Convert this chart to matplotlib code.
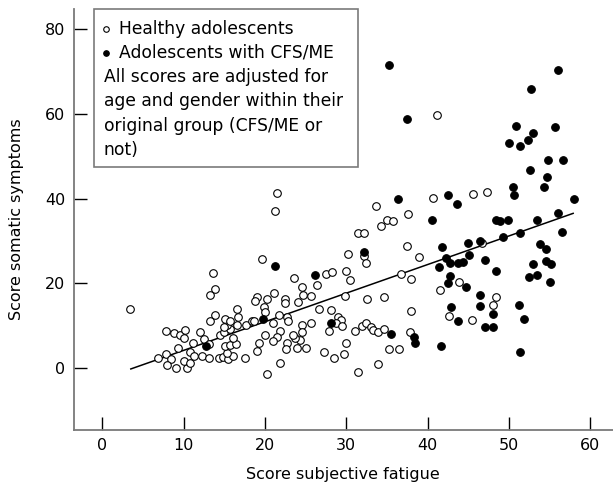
import matplotlib
matplotlib.use("Agg")
import matplotlib.pyplot as plt
from matplotlib.patches import Rectangle

plt.rcParams['font.family'] = ['DejaVu Sans']

# Healthy adolescents (open circles)
healthy_x = [3.4, 13.6, 13.9, 13.2, 13.9, 13.2, 7.8, 8.8, 9.5, 10.2, 10.1, 9.3, 11.2, 12.0, 12.5,
             13.1, 6.8, 7.8, 8.5, 8.0, 9.1, 10.4, 10.0, 10.8, 10.8, 11.3, 12.2, 13.1, 14.3, 14.8,
             15.5, 16.1, 15.3, 15.1, 15.7, 16.4, 16.1, 14.5, 14.9, 15.7, 15.3, 14.9, 15.1, 15.7,
             16.6, 16.6, 16.7,
             21.5, 21.2, 19.6, 23.6, 26.4, 24.6, 24.7, 25.6, 24.1, 22.5, 22.5, 21.1, 20.3, 19.0,
             18.8, 19.9, 20.0, 17.7, 18.4, 18.7, 21.0, 21.7, 22.7, 22.8, 24.5, 25.6, 26.6, 27.5,
             28.2, 28.1, 30.0, 30.5, 30.2, 29.8, 29.0, 29.4, 27.9, 28.7, 29.5, 30.0, 29.7, 28.5,
             27.3, 25.1, 24.6, 24.3, 23.9, 23.7, 23.4, 22.7, 22.6, 21.8, 21.5, 21.0, 20.0, 19.3,
             19.0, 21.9, 20.3, 17.5, 31.5, 33.9, 32.5, 34.6, 31.1, 31.9, 32.4, 33.0, 33.3, 33.9,
             34.6, 35.3, 36.5, 37.8, 37.9, 36.7, 38.0, 39.0, 37.5, 32.2, 32.4, 31.5, 32.2, 33.7,
             34.3, 35.0, 35.7, 37.6,
             41.2, 40.7, 45.6, 47.3, 46.7, 43.9, 41.5, 48.4, 48.1, 42.6, 45.4]
healthy_y = [14.0, 22.4, 18.6, 17.2, 12.5, 11.0, 8.8, 8.2, 7.8, 9.0, 7.1, 4.8, 5.9, 8.4, 6.8,
             5.7, 2.3, 3.3, 2.1, 0.8, 0.0, 0.0, 1.6, 1.2, 3.7, 2.9, 2.9, 2.3, 2.3, 2.7,
             2.1, 2.9, 3.5, 5.1, 5.5, 5.7, 7.1, 7.8, 8.6, 9.2, 10.2, 9.8, 11.6, 11.0,
             10.2, 13.9, 12.1,
             41.2, 37.1, 25.8, 21.3, 19.6, 19.1, 17.2, 17.0, 15.5, 16.2, 15.4, 17.6, 16.3, 16.8,
             15.9, 14.5, 13.3, 10.2, 11.0, 11.2, 10.7, 12.5, 12.1, 11.1, 10.2, 10.7, 14.0, 22.2,
             22.6, 13.7, 23.0, 20.8, 26.8, 17.1, 12.0, 11.4, 8.8, 10.6, 10.0, 5.9, 3.3, 2.4,
             3.9, 4.7, 8.6, 6.7, 4.7, 7.1, 7.8, 6.0, 4.5, 8.8, 7.4, 6.4, 7.7, 6.0,
             4.1, 1.3, -1.3, 2.4, -1.0, 0.9, 16.4, 16.7, 8.8, 10.0, 10.6, 9.8, 9.0, 8.6,
             9.2, 4.5, 4.5, 8.4, 13.5, 22.2, 21.0, 26.3, 28.8, 26.4, 24.7, 31.8, 31.9, 38.2,
             33.4, 34.9, 34.7, 36.3,
             59.7, 40.2, 41.1, 41.6, 29.6, 20.2, 18.4, 16.7, 14.9, 12.4, 11.3]

# Adolescents with CFS/ME (filled circles)
cfs_x = [12.8, 19.8, 21.2, 26.2, 28.1, 32.2, 35.5, 38.3, 38.5, 36.4, 35.3, 37.5,
         56.0, 52.7, 55.7, 50.9, 53.0, 52.4, 51.4, 50.0, 54.8, 56.7, 52.6, 54.7, 50.5,
         54.3, 50.6, 58.0, 56.0, 56.5, 53.5, 51.4, 49.3, 48.4, 48.9, 49.9, 40.6, 42.5,
         43.6, 45.0, 46.4, 41.8, 42.3, 42.7, 43.7, 44.3, 45.1, 47.0, 41.4, 48.4, 42.8,
         42.5, 44.7, 41.6, 46.5, 46.4, 48.1, 42.9, 43.7, 47.1, 48.1, 51.3, 51.9, 51.4,
         53.8, 54.6, 54.6, 55.2, 53.0, 52.5, 53.4, 55.0]
cfs_y = [5.1, 11.6, 24.2, 21.9, 10.6, 27.4, 8.0, 7.3, 5.9, 39.8, 71.4, 58.7,
         70.3, 65.9, 56.8, 57.2, 55.4, 53.7, 52.5, 53.2, 49.2, 49.2, 46.8, 45.0, 42.7,
         42.6, 40.9, 39.8, 36.5, 32.1, 35.0, 31.9, 31.0, 34.9, 34.7, 35.0, 34.9, 40.9,
         38.6, 29.6, 29.9, 28.5, 25.9, 24.9, 24.8, 25.1, 26.7, 25.5, 23.9, 22.9, 21.7,
         20.0, 19.2, 5.1, 17.3, 14.7, 12.8, 14.5, 11.2, 9.6, 9.6, 14.9, 11.6, 3.8,
         29.3, 28.0, 25.2, 24.5, 24.6, 21.4, 21.9, 20.2]

# Regression line end points
fit_x = [3.5, 57.9]
fit_y = [-0.2, 36.5]

x_ticks = [0, 10, 20, 30, 40, 50, 60]
y_ticks = [0, 20, 40, 60, 80]

legend_labels = ["Healthy adolescents", "Adolescents with CFS/ME"]
note_lines = ["All scores are adjusted for",
              "age and gender within their",
              "original group (CFS/ME or",
              "not)"]

W, H = 613, 484
AX_L, AX_R, AX_T, AX_B = 73.5, 613, 9, 430


def fx(px):
    return (px - AX_L) / (AX_R - AX_L)


def fy(py):
    return (AX_B - py) / (AX_B - AX_T)


fig = plt.figure(figsize=(W / 100, H / 100), dpi=100)
ax = fig.add_axes([AX_L / W, (H - AX_B) / H, (AX_R - AX_L) / W, (AX_B - AX_T) / H])

ax.plot(fit_x, fit_y, color='black', lw=1.1, zorder=2)
ax.scatter(healthy_x, healthy_y, s=30, facecolors='white', edgecolors='black',
           linewidths=0.8, zorder=3)
ax.scatter(cfs_x, cfs_y, s=30, facecolors='black', edgecolors='black',
           linewidths=0.8, zorder=4)

ax.set_xlim(-3.55, 62.8)
ax.set_ylim(-14.6, 84.7)
ax.set_xticks(x_ticks)
ax.set_yticks(y_ticks)
for s in ['top', 'right']:
    ax.spines[s].set_visible(False)
for s in ['left', 'bottom']:
    ax.spines[s].set_color('#7a7a7a')
    ax.spines[s].set_linewidth(1.3)
ax.tick_params(direction='in', length=9.5, width=1.0, color='black',
               labelsize=11.5, pad=6)

ax.set_xlabel("Score subjective fatigue", fontsize=11.5, labelpad=10)
ax.set_ylabel("Score somatic symptoms", fontsize=11.5, labelpad=15)

# legend / note box
ax.add_patch(Rectangle((fx(94), fy(167)), fx(358) - fx(94), fy(9) - fy(167),
                       transform=ax.transAxes, facecolor='white',
                       edgecolor='#7a7a7a', lw=1.2, zorder=5, clip_on=False))
pitch = 24.3
base0 = 33.5
ax.scatter([fx(106)], [fy(base0 - 5)], s=16, facecolors='white', edgecolors='black',
           linewidths=0.8, transform=ax.transAxes, zorder=6, clip_on=False)
ax.scatter([fx(106)], [fy(base0 + pitch - 5)], s=16, facecolors='black',
           edgecolors='black', linewidths=0.8, transform=ax.transAxes, zorder=6,
           clip_on=False)
for i, lab in enumerate(legend_labels):
    ax.text(fx(119), fy(base0 + i * pitch), lab, transform=ax.transAxes,
            ha='left', va='baseline', fontsize=12.3, zorder=6)
for j, line in enumerate(note_lines):
    ax.text(fx(103.5), fy(base0 + (j + 2) * pitch), line, transform=ax.transAxes,
            ha='left', va='baseline', fontsize=12.3, zorder=6)

fig.savefig("out.png", dpi=100)
